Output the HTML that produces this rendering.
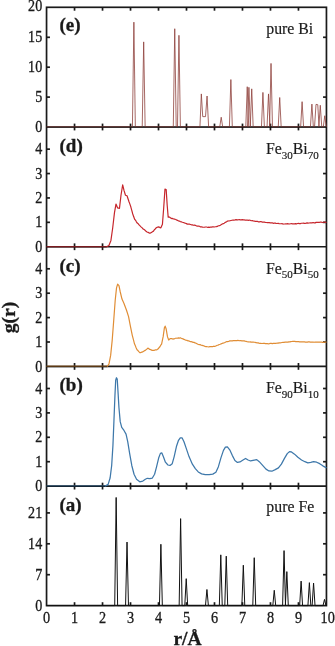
<!DOCTYPE html>
<html><head><meta charset="utf-8"><title>g(r)</title>
<style>html,body{margin:0;padding:0;background:#fff}body{width:335px;height:646px;overflow:hidden}</style>
</head><body>
<svg width="335" height="646" viewBox="0 0 335 646" style="display:block">
<rect width="335" height="646" fill="#fff"/>
<g stroke="#1a1a1a" stroke-width="1.7" fill="none">
<rect x="46.55" y="7.30" width="279.90" height="598.30"/>
<line x1="46.55" y1="127.00" x2="326.45" y2="127.00"/>
<line x1="46.55" y1="246.75" x2="326.45" y2="246.75"/>
<line x1="46.55" y1="366.40" x2="326.45" y2="366.40"/>
<line x1="46.55" y1="486.10" x2="326.45" y2="486.10"/>
<line x1="74.54" y1="123.60" x2="74.54" y2="130.40"/>
<line x1="102.53" y1="123.60" x2="102.53" y2="130.40"/>
<line x1="130.52" y1="123.60" x2="130.52" y2="130.40"/>
<line x1="158.51" y1="123.60" x2="158.51" y2="130.40"/>
<line x1="186.50" y1="123.60" x2="186.50" y2="130.40"/>
<line x1="214.49" y1="123.60" x2="214.49" y2="130.40"/>
<line x1="242.48" y1="123.60" x2="242.48" y2="130.40"/>
<line x1="270.47" y1="123.60" x2="270.47" y2="130.40"/>
<line x1="298.46" y1="123.60" x2="298.46" y2="130.40"/>
<line x1="74.54" y1="243.35" x2="74.54" y2="250.15"/>
<line x1="102.53" y1="243.35" x2="102.53" y2="250.15"/>
<line x1="130.52" y1="243.35" x2="130.52" y2="250.15"/>
<line x1="158.51" y1="243.35" x2="158.51" y2="250.15"/>
<line x1="186.50" y1="243.35" x2="186.50" y2="250.15"/>
<line x1="214.49" y1="243.35" x2="214.49" y2="250.15"/>
<line x1="242.48" y1="243.35" x2="242.48" y2="250.15"/>
<line x1="270.47" y1="243.35" x2="270.47" y2="250.15"/>
<line x1="298.46" y1="243.35" x2="298.46" y2="250.15"/>
<line x1="74.54" y1="363.00" x2="74.54" y2="369.80"/>
<line x1="102.53" y1="363.00" x2="102.53" y2="369.80"/>
<line x1="130.52" y1="363.00" x2="130.52" y2="369.80"/>
<line x1="158.51" y1="363.00" x2="158.51" y2="369.80"/>
<line x1="186.50" y1="363.00" x2="186.50" y2="369.80"/>
<line x1="214.49" y1="363.00" x2="214.49" y2="369.80"/>
<line x1="242.48" y1="363.00" x2="242.48" y2="369.80"/>
<line x1="270.47" y1="363.00" x2="270.47" y2="369.80"/>
<line x1="298.46" y1="363.00" x2="298.46" y2="369.80"/>
<line x1="74.54" y1="482.70" x2="74.54" y2="489.50"/>
<line x1="102.53" y1="482.70" x2="102.53" y2="489.50"/>
<line x1="130.52" y1="482.70" x2="130.52" y2="489.50"/>
<line x1="158.51" y1="482.70" x2="158.51" y2="489.50"/>
<line x1="186.50" y1="482.70" x2="186.50" y2="489.50"/>
<line x1="214.49" y1="482.70" x2="214.49" y2="489.50"/>
<line x1="242.48" y1="482.70" x2="242.48" y2="489.50"/>
<line x1="270.47" y1="482.70" x2="270.47" y2="489.50"/>
<line x1="298.46" y1="482.70" x2="298.46" y2="489.50"/>
<line x1="74.54" y1="602.20" x2="74.54" y2="605.60"/>
<line x1="102.53" y1="602.20" x2="102.53" y2="605.60"/>
<line x1="130.52" y1="602.20" x2="130.52" y2="605.60"/>
<line x1="158.51" y1="602.20" x2="158.51" y2="605.60"/>
<line x1="186.50" y1="602.20" x2="186.50" y2="605.60"/>
<line x1="214.49" y1="602.20" x2="214.49" y2="605.60"/>
<line x1="242.48" y1="602.20" x2="242.48" y2="605.60"/>
<line x1="270.47" y1="602.20" x2="270.47" y2="605.60"/>
<line x1="298.46" y1="602.20" x2="298.46" y2="605.60"/>
<line x1="74.54" y1="7.30" x2="74.54" y2="10.70"/>
<line x1="102.53" y1="7.30" x2="102.53" y2="10.70"/>
<line x1="130.52" y1="7.30" x2="130.52" y2="10.70"/>
<line x1="158.51" y1="7.30" x2="158.51" y2="10.70"/>
<line x1="186.50" y1="7.30" x2="186.50" y2="10.70"/>
<line x1="214.49" y1="7.30" x2="214.49" y2="10.70"/>
<line x1="242.48" y1="7.30" x2="242.48" y2="10.70"/>
<line x1="270.47" y1="7.30" x2="270.47" y2="10.70"/>
<line x1="298.46" y1="7.30" x2="298.46" y2="10.70"/>
<line x1="46.55" y1="97.10" x2="49.95" y2="97.10"/>
<line x1="323.05" y1="97.10" x2="326.45" y2="97.10"/>
<line x1="46.55" y1="67.20" x2="49.95" y2="67.20"/>
<line x1="323.05" y1="67.20" x2="326.45" y2="67.20"/>
<line x1="46.55" y1="37.30" x2="49.95" y2="37.30"/>
<line x1="323.05" y1="37.30" x2="326.45" y2="37.30"/>
<line x1="46.55" y1="222.35" x2="49.95" y2="222.35"/>
<line x1="323.05" y1="222.35" x2="326.45" y2="222.35"/>
<line x1="46.55" y1="197.95" x2="49.95" y2="197.95"/>
<line x1="323.05" y1="197.95" x2="326.45" y2="197.95"/>
<line x1="46.55" y1="173.55" x2="49.95" y2="173.55"/>
<line x1="323.05" y1="173.55" x2="326.45" y2="173.55"/>
<line x1="46.55" y1="149.15" x2="49.95" y2="149.15"/>
<line x1="323.05" y1="149.15" x2="326.45" y2="149.15"/>
<line x1="46.55" y1="342.00" x2="49.95" y2="342.00"/>
<line x1="323.05" y1="342.00" x2="326.45" y2="342.00"/>
<line x1="46.55" y1="317.60" x2="49.95" y2="317.60"/>
<line x1="323.05" y1="317.60" x2="326.45" y2="317.60"/>
<line x1="46.55" y1="293.20" x2="49.95" y2="293.20"/>
<line x1="323.05" y1="293.20" x2="326.45" y2="293.20"/>
<line x1="46.55" y1="268.80" x2="49.95" y2="268.80"/>
<line x1="323.05" y1="268.80" x2="326.45" y2="268.80"/>
<line x1="46.55" y1="461.70" x2="49.95" y2="461.70"/>
<line x1="323.05" y1="461.70" x2="326.45" y2="461.70"/>
<line x1="46.55" y1="437.30" x2="49.95" y2="437.30"/>
<line x1="323.05" y1="437.30" x2="326.45" y2="437.30"/>
<line x1="46.55" y1="412.90" x2="49.95" y2="412.90"/>
<line x1="323.05" y1="412.90" x2="326.45" y2="412.90"/>
<line x1="46.55" y1="388.50" x2="49.95" y2="388.50"/>
<line x1="323.05" y1="388.50" x2="326.45" y2="388.50"/>
<line x1="46.55" y1="574.70" x2="49.95" y2="574.70"/>
<line x1="323.05" y1="574.70" x2="326.45" y2="574.70"/>
<line x1="46.55" y1="543.80" x2="49.95" y2="543.80"/>
<line x1="323.05" y1="543.80" x2="326.45" y2="543.80"/>
<line x1="46.55" y1="512.91" x2="49.95" y2="512.91"/>
<line x1="323.05" y1="512.91" x2="326.45" y2="512.91"/>
</g>
<g id="curves">
<polyline points="46.55,126.80 132.43,126.80 133.88,22.15 135.33,126.80 142.23,126.80 143.68,41.88 145.13,126.80 173.29,126.80 174.74,28.73 176.19,126.80 177.49,126.80 178.94,35.31 180.39,126.80 199.94,126.80 201.33,93.91 202.73,116.63 205.53,116.63 207.07,96.00 208.61,126.80 219.76,126.80 221.21,117.23 222.66,126.80 229.41,126.80 230.86,79.56 232.31,126.80 245.79,126.80 247.24,86.73 248.69,126.80 247.47,126.80 248.92,87.33 250.37,126.80 250.27,126.80 251.72,88.83 253.17,126.80 261.46,126.80 262.91,92.41 264.36,126.80 267.06,126.80 268.51,93.91 269.96,126.80 269.58,126.80 271.03,63.41 272.48,126.80 278.26,126.80 279.71,97.50 281.16,126.80 300.65,126.80 302.10,101.68 303.55,126.80 310.45,126.80 311.90,104.08 313.35,126.80 314.55,126.80 316.01,104.38 317.77,104.67 319.03,126.80 318.84,126.80 320.29,105.27 321.74,126.80 323.32,126.80 324.77,115.74 326.22,126.80 326.45,126.80" fill="none" stroke="#8f413c" stroke-width="0.8" stroke-linejoin="round" stroke-linecap="butt"/>
<polyline points="46.55,246.75 106.42,246.75 108.94,245.53 110.93,240.41 112.69,227.96 114.45,212.83 115.97,204.05 117.64,207.95 119.46,208.44 121.00,195.27 122.68,184.77 124.00,190.39 125.48,195.27 127.02,195.75 129.01,201.74 129.90,204.15 130.80,206.80 131.78,210.34 132.76,213.99 133.74,216.83 134.72,219.42 135.56,220.27 136.40,221.82 137.24,223.09 138.26,223.82 139.29,225.17 140.32,226.09 141.26,227.12 142.21,227.89 143.15,228.99 144.10,229.60 145.07,230.30 146.05,231.29 147.03,231.99 148.15,232.39 149.27,233.05 150.39,233.08 151.42,232.39 152.45,231.76 153.47,231.12 154.36,229.74 155.24,228.95 156.13,227.86 157.25,227.29 158.37,226.88 159.21,227.11 160.05,227.69 160.89,227.82 161.66,226.10 162.43,224.18 163.69,207.95 164.95,189.17 166.18,189.65 167.19,205.27 168.19,217.26 168.95,217.04 169.71,217.18 170.69,217.89 171.67,218.58 172.64,218.46 173.62,218.97 174.60,219.12 175.58,219.52 176.54,219.86 177.49,220.36 178.44,220.81 179.39,221.14 180.34,221.58 181.35,221.79 182.36,222.26 183.37,222.51 184.37,222.91 185.38,223.21 186.39,223.61 187.40,224.10 188.40,224.00 189.41,224.20 190.42,224.47 191.40,224.79 192.38,224.88 193.36,225.28 194.34,225.13 195.32,225.41 196.37,225.81 197.42,226.17 198.47,226.04 199.52,226.23 200.56,226.93 201.61,226.84 202.64,227.07 203.67,227.24 204.69,227.21 205.72,227.02 206.75,227.01 207.77,227.45 208.72,227.14 209.66,227.39 210.61,227.03 211.55,227.19 212.50,226.89 213.44,226.81 214.39,227.01 215.33,226.74 216.34,226.69 217.34,226.41 218.35,225.77 219.36,225.65 220.37,225.18 221.35,224.56 222.33,223.94 223.31,223.65 224.29,223.18 225.20,222.32 226.11,222.14 227.02,221.36 227.93,220.94 228.93,220.99 229.94,220.76 230.95,220.53 231.96,220.28 232.96,220.11 234.01,220.04 235.06,219.93 236.11,219.69 237.16,219.83 238.21,219.78 239.26,219.56 240.27,219.84 241.28,219.86 242.28,219.58 243.29,219.85 244.30,219.89 245.28,220.20 246.26,220.05 247.24,220.02 248.22,220.34 249.20,220.10 250.21,220.28 251.21,220.76 252.22,220.68 253.23,220.95 254.24,221.04 255.26,221.31 256.28,221.25 257.29,221.35 258.31,221.81 259.33,221.90 260.35,221.71 261.37,221.68 262.37,222.13 263.36,222.13 264.35,222.17 265.35,222.40 266.34,222.48 267.34,222.60 268.33,222.67 269.32,222.66 270.32,222.91 271.31,222.97 272.28,222.86 273.25,223.30 274.22,223.11 275.19,223.11 276.15,223.40 277.12,223.52 278.09,223.31 279.06,223.67 280.03,223.77 281.00,223.73 281.97,223.68 282.94,224.05 283.91,224.02 284.87,224.00 285.84,223.74 286.81,223.91 287.78,223.69 288.75,224.00 289.72,223.90 290.69,223.73 291.66,223.60 292.63,223.79 293.59,223.88 294.56,223.91 295.53,223.70 296.50,223.84 297.47,223.48 298.44,223.41 299.41,223.67 300.38,223.56 301.35,223.24 302.31,223.26 303.28,223.12 304.25,223.29 305.22,223.33 306.19,223.19 307.16,222.89 308.13,223.08 309.10,222.99 310.10,222.90 311.11,222.85 312.12,222.81 313.13,222.51 314.13,222.84 315.14,222.86 316.15,222.35 317.16,222.34 318.16,222.23 319.17,222.46 320.21,222.19 321.25,222.19 322.29,222.53 323.33,222.26 324.37,222.21 325.41,222.28 326.45,222.35" fill="none" stroke="#c6262c" stroke-width="1.2" stroke-linejoin="round" stroke-linecap="butt"/>
<polyline points="46.55,366.40 107.18,366.40 108.94,364.20 110.65,355.42 112.19,340.41 113.73,320.28 115.21,300.28 116.52,287.83 117.64,284.17 118.96,285.64 120.16,291.49 121.98,299.06 124.00,303.45 126.52,310.28 128.56,316.62 130.24,325.36 131.26,330.32 132.28,335.30 133.42,339.63 134.55,344.10 135.38,345.86 136.21,348.04 137.04,349.70 137.95,350.53 138.85,351.66 139.76,352.58 140.78,352.56 141.81,352.10 142.84,351.86 143.68,351.21 144.51,350.67 145.35,350.36 146.19,349.63 147.03,348.94 147.87,348.04 148.85,348.66 149.83,349.45 150.67,349.57 151.51,350.19 152.35,350.37 153.38,350.40 154.40,350.29 155.43,349.79 156.27,349.80 157.11,349.55 157.95,349.01 158.93,347.77 159.91,346.72 160.75,345.24 161.59,344.18 162.37,340.34 163.16,336.63 164.39,327.85 165.17,326.14 166.18,329.07 167.47,336.63 168.70,340.02 169.62,339.07 170.55,338.51 171.39,338.56 172.23,338.76 173.06,339.15 173.90,338.80 174.74,338.55 175.58,338.23 176.54,338.22 177.49,338.08 178.44,337.91 179.39,338.09 180.34,337.78 181.25,338.30 182.16,338.69 183.07,338.88 183.98,339.40 184.99,339.81 186.00,340.10 187.00,340.36 188.01,340.97 189.02,340.96 190.03,341.60 191.03,341.59 192.04,341.82 193.05,342.41 194.06,342.38 195.06,342.93 196.07,343.24 197.08,343.85 198.09,344.23 199.10,344.56 200.10,344.60 201.11,345.24 202.12,345.36 203.13,345.64 204.13,345.98 205.04,346.39 205.95,346.57 206.86,346.69 207.77,346.77 208.75,346.97 209.73,346.66 210.71,346.58 211.69,346.50 212.60,346.69 213.51,346.22 214.42,346.43 215.33,346.21 216.31,345.74 217.29,345.25 218.27,345.11 219.25,344.52 220.16,344.24 221.07,343.90 221.98,343.47 222.89,343.10 223.87,342.84 224.85,342.50 225.83,341.99 226.81,341.56 227.72,341.67 228.62,341.51 229.53,340.93 230.44,340.89 231.36,340.87 232.28,340.86 233.20,340.65 234.12,340.48 235.04,340.55 235.96,340.49 236.88,340.56 237.91,340.31 238.93,340.74 239.96,340.65 240.99,340.60 242.01,340.96 243.04,340.81 244.05,340.90 245.06,341.19 246.06,341.30 247.07,341.74 248.08,341.78 249.10,341.99 250.13,341.82 251.16,342.14 252.18,342.18 253.21,342.07 254.24,342.23 255.19,342.34 256.14,342.70 257.09,342.84 258.04,342.90 258.99,343.15 259.92,343.29 260.85,343.31 261.78,343.48 262.70,343.45 263.63,343.28 264.56,343.35 265.48,343.55 266.41,343.66 267.39,343.70 268.37,343.78 269.35,343.68 270.33,343.46 271.31,343.41 272.29,343.58 273.27,343.40 274.25,343.38 275.23,343.39 276.19,343.28 277.16,343.12 278.12,343.16 279.08,342.91 280.05,342.95 281.01,342.75 281.98,342.52 282.94,342.44 283.91,342.47 284.90,342.11 285.90,342.11 286.89,342.03 287.89,342.14 288.88,341.82 289.88,341.82 290.87,341.55 291.87,341.52 292.86,341.27 293.83,341.40 294.79,341.41 295.75,341.65 296.72,341.60 297.68,341.64 298.65,341.67 299.61,341.92 300.57,341.80 301.54,341.86 302.51,341.94 303.48,341.84 304.45,341.86 305.41,342.04 306.38,342.04 307.35,342.20 308.32,341.95 309.29,341.92 310.26,342.11 311.23,342.04 312.20,342.04 313.17,342.05 314.13,342.27 315.08,342.04 316.03,342.11 316.98,342.08 317.92,342.18 318.87,342.10 319.82,342.04 320.77,342.09 321.71,342.06 322.66,342.33 323.61,342.28 324.56,342.17 325.50,342.09 326.45,342.15" fill="none" stroke="#e08d35" stroke-width="1.2" stroke-linejoin="round" stroke-linecap="butt"/>
<polyline points="46.55,486.10 105.16,486.10 108.13,484.39 110.09,478.05 111.68,465.48 112.94,445.35 113.95,420.46 114.96,395.33 115.69,380.20 116.47,377.76 117.22,378.98 117.92,390.21 118.96,407.78 120.22,421.68 121.73,427.30 124.00,430.47 126.04,434.13 127.72,441.69 129.76,454.14 131.78,465.48 134.05,474.27 136.54,479.27 139.76,481.78 142.84,481.02 145.35,479.27 147.31,478.29 149.83,478.54 152.35,478.05 154.59,474.27 156.55,466.82 158.65,458.04 160.41,453.40 161.87,452.92 163.41,456.70 165.42,462.19 167.94,464.99 169.99,465.48 172.23,463.65 174.18,456.58 176.42,446.57 178.52,440.30 180.26,437.79 182.02,437.79 183.98,441.69 186.50,449.11 189.02,456.58 192.38,464.14 195.32,468.65 198.26,471.95 201.61,473.90 205.25,474.68 209.17,474.68 212.81,474.14 215.89,472.19 218.41,466.65 220.93,457.89 223.45,450.35 225.41,447.06 227.37,446.82 229.74,449.84 232.26,455.36 234.92,460.48 237.44,462.43 239.96,461.94 243.04,459.99 245.56,458.41 248.08,459.99 250.60,460.97 254.24,460.11 256.75,459.63 259.27,461.70 262.63,465.36 265.99,469.14 268.93,470.97 271.87,471.22 275.23,469.65 278.45,467.90 281.39,464.14 284.46,458.41 287.26,453.65 289.50,451.60 291.46,451.94 294.54,454.14 297.90,457.31 301.54,459.99 304.90,461.70 307.84,462.92 310.78,462.43 313.57,461.70 316.65,462.19 319.73,463.65 322.81,465.85 326.45,467.90" fill="none" stroke="#3e78aa" stroke-width="1.25" stroke-linejoin="round" stroke-linecap="butt"/>
<polyline points="46.55,605.60 114.71,605.60 116.16,497.46 117.61,605.60 125.57,605.60 127.02,542.04 128.47,605.60 159.44,605.60 160.89,544.25 162.34,605.60 179.17,605.60 180.62,518.64 182.07,605.60 184.77,605.60 186.22,578.67 187.67,605.60 205.48,605.60 206.93,589.49 208.38,605.60 219.34,605.60 220.79,554.84 222.24,605.60 224.80,605.60 226.25,556.16 227.70,605.60 241.87,605.60 243.32,565.21 244.77,605.60 252.79,605.60 254.24,557.71 255.69,605.60 272.80,605.60 274.25,590.28 275.70,605.60 282.60,605.60 284.05,550.60 285.50,605.60 285.39,605.60 286.84,571.61 288.29,605.60 299.67,605.60 301.12,581.10 302.57,605.60 307.93,605.60 309.38,582.65 310.83,605.60 312.12,605.60 313.57,583.09 315.02,605.60 323.04,605.60 324.49,599.42 325.94,605.60 326.45,605.60" fill="none" stroke="#111111" stroke-width="1.0" stroke-linejoin="round" stroke-linecap="butt"/>
<line x1="46.55" y1="127.20" x2="326.45" y2="127.20" stroke="#000" stroke-width="1.0" opacity="0.55"/>
<line x1="46.55" y1="247.05" x2="106.73" y2="247.05" stroke="#000" stroke-width="0.9" opacity="0.5"/>
<line x1="46.55" y1="366.60" x2="107.29" y2="366.60" stroke="#000" stroke-width="1.3" opacity="0.6"/>
<line x1="46.55" y1="486.30" x2="105.33" y2="486.30" stroke="#000" stroke-width="1.3" opacity="0.6"/>
</g>
<g font-family="'Liberation Serif', 'Times New Roman', serif" fill="#1a1a1a" stroke="#1a1a1a" stroke-width="0.3">
<text transform="translate(42.2,11.00) scale(0.91,1.02)" font-size="15.5" text-anchor="end">20</text>
<text transform="translate(42.2,101.50) scale(0.91,1.02)" font-size="15.5" text-anchor="end">5</text>
<text transform="translate(42.2,71.60) scale(0.91,1.02)" font-size="15.5" text-anchor="end">10</text>
<text transform="translate(42.2,41.70) scale(0.91,1.02)" font-size="15.5" text-anchor="end">15</text>
<text transform="translate(42.2,131.90) scale(0.91,1.02)" font-size="15.5" text-anchor="end">0</text>
<text transform="translate(42.2,251.85) scale(0.91,1.02)" font-size="15.5" text-anchor="end">0</text>
<text transform="translate(42.2,227.45) scale(0.91,1.02)" font-size="15.5" text-anchor="end">1</text>
<text transform="translate(42.2,203.05) scale(0.91,1.02)" font-size="15.5" text-anchor="end">2</text>
<text transform="translate(42.2,178.65) scale(0.91,1.02)" font-size="15.5" text-anchor="end">3</text>
<text transform="translate(42.2,154.25) scale(0.91,1.02)" font-size="15.5" text-anchor="end">4</text>
<text transform="translate(42.2,371.50) scale(0.91,1.02)" font-size="15.5" text-anchor="end">0</text>
<text transform="translate(42.2,347.10) scale(0.91,1.02)" font-size="15.5" text-anchor="end">1</text>
<text transform="translate(42.2,322.70) scale(0.91,1.02)" font-size="15.5" text-anchor="end">2</text>
<text transform="translate(42.2,298.30) scale(0.91,1.02)" font-size="15.5" text-anchor="end">3</text>
<text transform="translate(42.2,273.90) scale(0.91,1.02)" font-size="15.5" text-anchor="end">4</text>
<text transform="translate(42.2,491.20) scale(0.91,1.02)" font-size="15.5" text-anchor="end">0</text>
<text transform="translate(42.2,466.80) scale(0.91,1.02)" font-size="15.5" text-anchor="end">1</text>
<text transform="translate(42.2,442.40) scale(0.91,1.02)" font-size="15.5" text-anchor="end">2</text>
<text transform="translate(42.2,418.00) scale(0.91,1.02)" font-size="15.5" text-anchor="end">3</text>
<text transform="translate(42.2,393.60) scale(0.91,1.02)" font-size="15.5" text-anchor="end">4</text>
<text transform="translate(42.2,610.70) scale(0.91,1.02)" font-size="15.5" text-anchor="end">0</text>
<text transform="translate(42.2,579.80) scale(0.91,1.02)" font-size="15.5" text-anchor="end">7</text>
<text transform="translate(42.2,548.90) scale(0.91,1.02)" font-size="15.5" text-anchor="end">14</text>
<text transform="translate(42.2,518.01) scale(0.91,1.02)" font-size="15.5" text-anchor="end">21</text>
<text transform="translate(46.55,622.7) scale(0.92,1.03)" font-size="15.5" text-anchor="middle">0</text>
<text transform="translate(74.54,622.7) scale(0.92,1.03)" font-size="15.5" text-anchor="middle">1</text>
<text transform="translate(102.53,622.7) scale(0.92,1.03)" font-size="15.5" text-anchor="middle">2</text>
<text transform="translate(130.52,622.7) scale(0.92,1.03)" font-size="15.5" text-anchor="middle">3</text>
<text transform="translate(158.51,622.7) scale(0.92,1.03)" font-size="15.5" text-anchor="middle">4</text>
<text transform="translate(186.50,622.7) scale(0.92,1.03)" font-size="15.5" text-anchor="middle">5</text>
<text transform="translate(214.49,622.7) scale(0.92,1.03)" font-size="15.5" text-anchor="middle">6</text>
<text transform="translate(242.48,622.7) scale(0.92,1.03)" font-size="15.5" text-anchor="middle">7</text>
<text transform="translate(270.47,622.7) scale(0.92,1.03)" font-size="15.5" text-anchor="middle">8</text>
<text transform="translate(298.46,622.7) scale(0.92,1.03)" font-size="15.5" text-anchor="middle">9</text>
<text transform="translate(327.65,622.7) scale(0.92,1.03)" font-size="15.5" text-anchor="middle">10</text>
<text x="59.5" y="31.30" font-size="19" font-weight="bold">(e)</text>
<text x="59.5" y="151.90" font-size="19" font-weight="bold">(d)</text>
<text x="59.5" y="271.65" font-size="19" font-weight="bold">(c)</text>
<text x="59.5" y="391.30" font-size="19" font-weight="bold">(b)</text>
<text x="59.5" y="511.00" font-size="19" font-weight="bold">(a)</text>
<g stroke-width="0.18">
<text x="313.2" y="34.10" font-size="15.8" text-anchor="end">pure Bi</text>
<text x="266" y="154.20" font-size="15.8">Fe<tspan font-size="11" dy="4.5">30</tspan><tspan dy="-4.5">Bi</tspan><tspan font-size="11" dy="4.5">70</tspan></text>
<text x="266" y="273.95" font-size="15.8">Fe<tspan font-size="11" dy="4.5">50</tspan><tspan dy="-4.5">Bi</tspan><tspan font-size="11" dy="4.5">50</tspan></text>
<text x="266" y="393.20" font-size="15.8">Fe<tspan font-size="11" dy="4.5">90</tspan><tspan dy="-4.5">Bi</tspan><tspan font-size="11" dy="4.5">10</tspan></text>
<text x="314.2" y="511.60" font-size="15.8" text-anchor="end">pure Fe</text>
</g>
<text x="187.5" y="645" font-size="19.5" font-weight="bold" text-anchor="middle">r/Å</text>
<text transform="translate(14.7,317.5) rotate(-90)" font-size="19.5" font-weight="bold" text-anchor="middle">g(r)</text>
</g>
</svg>
</body></html>
